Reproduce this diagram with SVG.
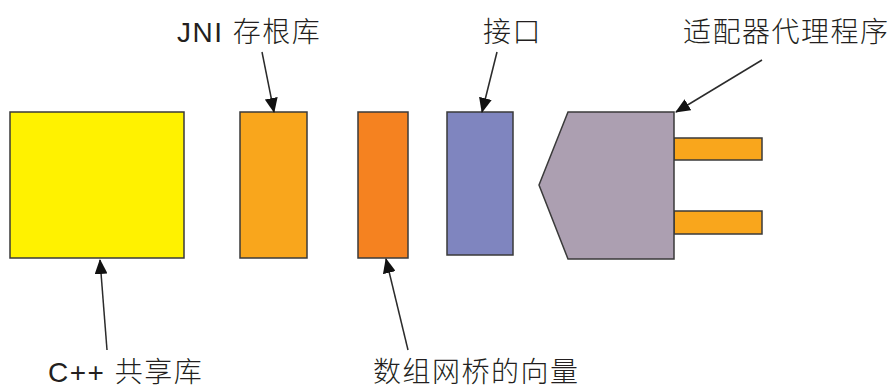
<svg xmlns="http://www.w3.org/2000/svg" width="892" height="389" viewBox="0 0 892 389">
<defs>
<style>
.shape{stroke:#3a3a3a;stroke-width:1.5}
.lbl{font-family:"Liberation Sans","Noto Sans CJK SC",sans-serif;font-size:28px;font-weight:300;fill:#231f20;letter-spacing:1.5px}
.conn{stroke:#2b2b2b;stroke-width:1.5;fill:none;marker-end:url(#ah)}
</style>
<marker id="ah" markerWidth="15" markerHeight="13" refX="14" refY="6.5" orient="auto" markerUnits="userSpaceOnUse">
<path d="M0,0 L15,6.5 L0,13 Z" fill="#111"/>
</marker>
</defs>
<rect width="892" height="389" fill="#ffffff"/>
<g id="cpp-lib">
<rect class="shape" x="10" y="112" width="174" height="146" fill="#fff200"/>
</g>
<g id="jni-stub">
<rect class="shape" x="240" y="112" width="67" height="146" fill="#f9a61c"/>
</g>
<g id="array-bridge">
<rect class="shape" x="358" y="112" width="50" height="146" fill="#f58220"/>
</g>
<g id="interface">
<rect class="shape" x="447" y="112" width="66" height="143" fill="#7f85bf"/>
</g>
<g id="adapter-proxy">
<rect class="shape" x="674" y="138" width="88" height="22" fill="#f9a61c"/>
<rect class="shape" x="674" y="211" width="88" height="23" fill="#f9a61c"/>
<polygon class="shape" points="568,112 674,112 674,259 568,259 539,185" fill="#ac9fb1"/>
</g>
<g id="connectors">
<line class="conn" x1="262" y1="52" x2="274" y2="112"/>
<line class="conn" x1="497" y1="52" x2="482" y2="112"/>
<line class="conn" x1="762" y1="60" x2="676" y2="112"/>
<line class="conn" x1="107" y1="350" x2="100" y2="260"/>
<line class="conn" x1="408" y1="350" x2="386" y2="259"/>
</g>
<g id="labels">
<text class="lbl" x="177" y="42">JNI  存根库</text>
<text class="lbl" x="483" y="42">接口</text>
<text class="lbl" x="683" y="42">适配器代理程序</text>
<text class="lbl" x="48" y="382">C++ 共享库</text>
<text class="lbl" x="373" y="382">数组网桥的向量</text>
</g>
</svg>
